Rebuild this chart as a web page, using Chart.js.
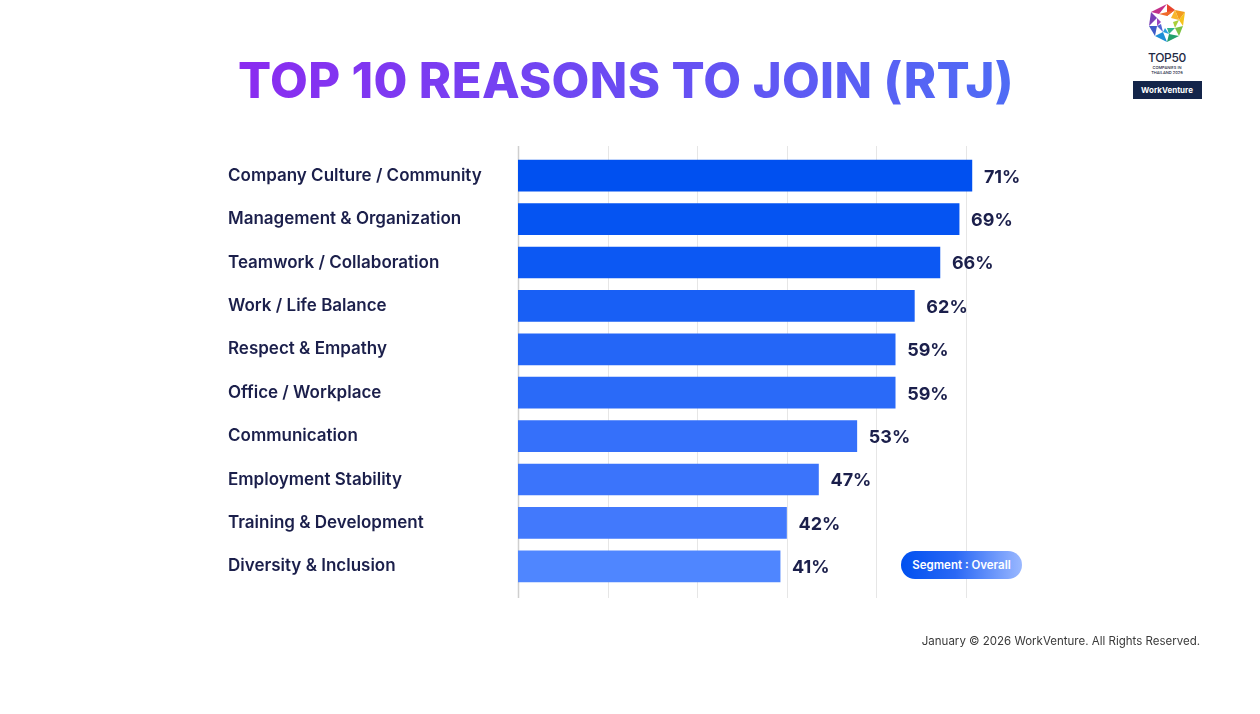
<!DOCTYPE html>
<html>
<head>
<meta charset="utf-8">
<script src="https://cdn.jsdelivr.net/npm/chart.js@4/dist/chart.umd.min.js"></script>
<style>
  html, body { margin: 0; padding: 0; background: #fff; }
  body { width: 1260px; height: 714px; position: relative; overflow: hidden; font-family: Inter, "Noto Sans", sans-serif; }
  #title {
    position: absolute; left: 0; width: 1252px; top: 51px; text-align: center;
    font: 800 49px Inter, sans-serif; letter-spacing: 0.35px;
  }
  #title span {
    background: linear-gradient(90deg, #8b2cf0 0%, #6a4cf3 50%, #4f6cf5 100%);
    -webkit-background-clip: text; background-clip: text; color: transparent;
  }
  #wrap { position: absolute; left: 0; top: 0; width: 1260px; height: 714px; }
  #badge {
    position: absolute; left: 901px; top: 551px; width: 121px; height: 28px; border-radius: 14px;
    background: linear-gradient(90deg, #0050f0 0%, #2a68f5 45%, #9ab8ff 100%);
    color: #fff; font: 600 11.5px Inter, sans-serif; line-height: 28px; text-align: center;
  }
  #footer {
    position: absolute; right: 60px; top: 634px; font: 400 11.5px Inter, sans-serif; color: #3a3a3a;
  }
  #logo { position: absolute; left: 1126px; top: 2px; width: 82px; text-align: center; }
  #logo .t1 { font: 500 12px Inter, sans-serif; color: #1f2a44; margin-top: 2px; letter-spacing: -0.3px; }
  #logo .t2 { font: 500 4px Inter, sans-serif; color: #1f2a44; line-height: 5px; }
  #logo .box { margin: 6px auto 0; width: 69px; height: 18px; background: #14254a; color: #fff;
    font: 700 8px Inter, sans-serif; line-height: 18px; }
</style>
</head>
<body>
<div id="title"><span>TOP 10 REASONS TO JOIN (RTJ)</span></div>

<div id="logo">
  <svg width="44" height="42" viewBox="0 0 44 42">
    <polygon points="22,2 30,8 22,14" fill="#e8452c"/>
    <polygon points="30,8 40,10 34,18" fill="#f29a1d"/>
    <polygon points="40,10 38,24 34,18" fill="#f6c21b"/>
    <polygon points="38,24 34,34 30,26" fill="#7cc242"/>
    <polygon points="34,34 22,40 24,32" fill="#22a06b"/>
    <polygon points="22,40 10,34 18,30" fill="#1f8fd6"/>
    <polygon points="10,34 4,24 12,24" fill="#3f5bc8"/>
    <polygon points="4,24 6,10 12,16" fill="#7b3fb6"/>
    <polygon points="6,10 22,2 14,12" fill="#c3308a"/>
    <polygon points="14,12 30,8 22,14" fill="#f06a2b"/>
    <polygon points="30,8 34,18 26,16" fill="#f8b62c"/>
    <polygon points="34,18 30,26 28,20" fill="#a9cf3a"/>
    <polygon points="30,26 24,32 22,26" fill="#2fb38c"/>
    <polygon points="24,32 18,30 20,26" fill="#2a9fe0"/>
    <polygon points="18,30 12,24 16,22" fill="#5265d6"/>
    <polygon points="12,24 12,16 16,20" fill="#9a44c0"/>
  </svg>
  <div class="t1">TOP50</div>
  <div class="t2">COMPANIES IN<br>THAILAND 2026</div>
  <div class="box">WorkVenture</div>
</div>

<div id="wrap"><canvas id="rtj" width="1260" height="714"></canvas></div>
<div id="badge">Segment : Overall</div>
<div id="footer">January © 2026 WorkVenture. All Rights Reserved.</div>

<script>
// data
const reasons = [
  'Company Culture / Community',
  'Management & Organization',
  'Teamwork / Collaboration',
  'Work / Life Balance',
  'Respect & Empathy',
  'Office / Workplace',
  'Communication',
  'Employment Stability',
  'Training & Development',
  'Diversity & Inclusion'
];
const percents = [71, 69, 66, 62, 59, 59, 53, 47, 42, 41];
const gridSteps = [0, 14, 28, 42, 56, 70];

// style only
const barColors = ['#0050f0', '#0554f2', '#0c58f3', '#185ff5', '#2466f7', '#2a6af8', '#3570fa', '#3b74fb', '#4279fc', '#4f86ff'];
const navy = '#1b1f4b';

// grid lines drawn a bit past the chart area like the original
const gridPlugin = {
  id: 'gridPlugin',
  beforeDatasetsDraw(chart) {
    const { ctx, chartArea, scales } = chart;
    ctx.save();
    gridSteps.forEach(function(v) {
      const x = Math.round(scales.x.getPixelForValue(v)) + 0.5;
      ctx.beginPath();
      ctx.strokeStyle = v === 0 ? '#cfcfcf' : '#e6e6e6';
      ctx.lineWidth = v === 0 ? 1.5 : 1;
      ctx.moveTo(x, chartArea.top - 8);
      ctx.lineTo(x, chartArea.bottom + 10);
      ctx.stroke();
    });
    ctx.restore();
  }
};

const valueLabels = {
  id: 'valueLabels',
  afterDatasetsDraw(chart) {
    const { ctx } = chart;
    const meta = chart.getDatasetMeta(0);
    ctx.save();
    ctx.font = '700 18px Inter, sans-serif';
    ctx.fillStyle = navy;
    ctx.textBaseline = 'middle';
    meta.data.forEach(function(bar, i) {
      ctx.fillText(percents[i] + '%', bar.x + 12, bar.y + 1.5);
    });
    ctx.restore();
  }
};

new Chart(document.getElementById('rtj'), {
  type: 'bar',
  data: {
    labels: reasons,
    datasets: [{
      data: percents,
      backgroundColor: barColors,
      barThickness: 31,
      borderWidth: 0
    }]
  },
  options: {
    indexAxis: 'y',
    responsive: false,
    animation: false,
    layout: { padding: { left: 228, right: 1260 - 1055, top: 154, bottom: 714 - 588 } },
    plugins: { legend: { display: false }, tooltip: { enabled: false } },
    scales: {
      x: {
        min: 0,
        max: 84,
        ticks: { display: false, stepSize: 14 },
        grid: { display: false },
        border: { display: false },
        afterFit: function(scale) { scale.height = 0; }
      },
      y: {
        grid: { display: false },
        border: { display: false },
        ticks: {
          crossAlign: 'far',
          color: navy,
          font: { family: 'Inter, sans-serif', size: 17, weight: '600' }
        },
        afterFit: function(scale) { scale.width = 518 - 228; }
      }
    }
  },
  plugins: [gridPlugin, valueLabels]
});
</script>
</body>
</html>
